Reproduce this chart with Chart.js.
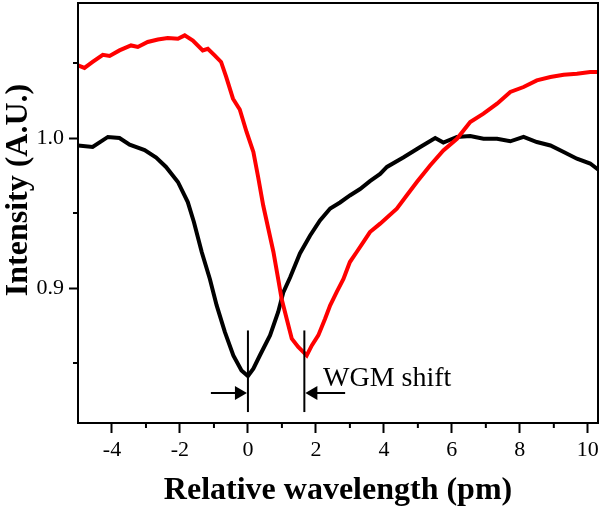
<!DOCTYPE html>
<html>
<head>
<meta charset="utf-8">
<script src="https://cdn.jsdelivr.net/npm/chart.js@4.4.1/dist/chart.umd.min.js"></script>
<style>
  html, body { margin: 0; padding: 0; background: #fff; }
  canvas { display: block; }
</style>
</head>
<body>
<canvas id="chart" width="601" height="511"></canvas>
<script>
// Data
const blackX = [-5.0, -4.57, -4.12, -3.78, -3.48, -3.04, -2.70, -2.41, -2.06, -1.77, -1.59, -1.36, -1.12, -0.92, -0.68, -0.43, -0.19, 0.0, 0.16, 0.35, 0.65, 0.89, 1.04, 1.24, 1.53, 1.83, 2.12, 2.42, 2.71, 3.00, 3.30, 3.59, 3.89, 4.09, 4.57, 5.07, 5.51, 5.75, 6.15, 6.54, 6.93, 7.33, 7.72, 8.11, 8.50, 8.90, 9.29, 9.68, 10.07, 10.3];
const blackY = [0.995, 0.994, 1.0007, 1.0, 0.9955, 0.992, 0.987, 0.9807, 0.9707, 0.9573, 0.944, 0.924, 0.906, 0.8884, 0.8707, 0.855, 0.845, 0.8413, 0.8462, 0.855, 0.8684, 0.884, 0.897, 0.907, 0.923, 0.935, 0.945, 0.953, 0.957, 0.9617, 0.966, 0.9712, 0.976, 0.9807, 0.987, 0.994, 1.0, 0.997, 1.0007, 1.0013, 0.9995, 0.9995, 0.9978, 1.0007, 0.9973, 0.995, 0.9907, 0.9862, 0.983, 0.979];

const redX = [-5.0, -4.81, -4.57, -4.27, -4.07, -3.78, -3.44, -3.24, -2.95, -2.65, -2.36, -2.06, -1.86, -1.62, -1.33, -1.18, -0.98, -0.79, -0.64, -0.44, -0.24, -0.04, 0.16, 0.30, 0.45, 0.60, 0.75, 0.89, 0.99, 1.14, 1.29, 1.48, 1.73, 1.88, 2.07, 2.27, 2.42, 2.61, 2.81, 3.00, 3.20, 3.40, 3.59, 3.89, 4.38, 4.67, 4.97, 5.36, 5.75, 6.15, 6.54, 6.93, 7.33, 7.72, 8.11, 8.50, 8.90, 9.29, 9.68, 10.07, 10.3];
const redY = [1.0484, 1.0467, 1.0507, 1.0555, 1.0547, 1.0584, 1.0617, 1.0607, 1.064, 1.0657, 1.0667, 1.0662, 1.0684, 1.065, 1.0584, 1.0595, 1.0551, 1.0507, 1.0407, 1.0262, 1.019, 1.004, 0.9907, 0.974, 0.955, 0.9395, 0.924, 0.906, 0.8929, 0.8795, 0.8662, 0.8607, 0.855, 0.8617, 0.8684, 0.8795, 0.8884, 0.8973, 0.906, 0.9173, 0.924, 0.9307, 0.9373, 0.9429, 0.9529, 0.9617, 0.9707, 0.9817, 0.9917, 0.9995, 1.0107, 1.0162, 1.0229, 1.0307, 1.034, 1.0384, 1.0407, 1.0422, 1.0429, 1.044, 1.044];

// axes
const xMajorTicks = [-4, -2, 0, 2, 4, 6, 8, 10];
const xMinorTicks = [-3, -1, 1, 3, 5, 7, 9];
const yMajorTicks = [0.9, 1.0];
const yMinorTicks = [0.85, 0.95, 1.05];
const xTitle = 'Relative wavelength (pm)';
const yTitle = 'Intensity (A.U.)';

// annotation: dip markers and arrows
const dipX = [0, 1.66];
const dipLineY = [0.8173, 0.8717];
const arrowY = 0.83;
const arrowTailX = [-1.09, 2.86];
const shiftLabel = 'WGM shift';
const shiftLabelX = 2.21;
const shiftLabelY = 0.835;

const serif = "'Liberation Serif', 'Times New Roman', serif";

const toPoints = (xs, ys) => xs.map((x, i) => ({ x: x, y: ys[i] }));

// keep the plot box where the reference has it
function noEdgePadding(s) {
  s.paddingTop = 0;
  s.paddingBottom = 0;
  s.paddingLeft = 0;
  s.paddingRight = 0;
}

const extras = {
  id: 'extras',
  afterDraw(chart) {
    const ctx = chart.ctx;
    const area = chart.chartArea;
    const xs = chart.scales.x;
    const ys = chart.scales.y;
    ctx.save();

    // frame
    ctx.strokeStyle = '#000';
    ctx.lineWidth = 2;
    ctx.strokeRect(area.left, area.top, area.right - area.left, area.bottom - area.top);

    // minor ticks
    ctx.beginPath();
    xMinorTicks.forEach(v => {
      const px = xs.getPixelForValue(v);
      ctx.moveTo(px, area.bottom);
      ctx.lineTo(px, area.bottom + 5);
    });
    yMinorTicks.forEach(v => {
      const py = ys.getPixelForValue(v);
      ctx.moveTo(area.left - 5, py);
      ctx.lineTo(area.left, py);
    });
    ctx.stroke();

    // dip markers
    const y0 = ys.getPixelForValue(dipLineY[0]);
    const y1 = ys.getPixelForValue(dipLineY[1]);
    const ay = ys.getPixelForValue(arrowY);
    ctx.lineWidth = 2;
    dipX.forEach((v, i) => {
      const px = xs.getPixelForValue(v);
      ctx.beginPath();
      ctx.moveTo(px, y0);
      ctx.lineTo(px, y1);
      ctx.stroke();

      // arrow towards the marker
      const tail = xs.getPixelForValue(arrowTailX[i]);
      const dir = tail < px ? 1 : -1;
      ctx.beginPath();
      ctx.moveTo(tail, ay);
      ctx.lineTo(px - dir * 10, ay);
      ctx.stroke();
      ctx.beginPath();
      ctx.moveTo(px - dir * 1, ay);
      ctx.lineTo(px - dir * 13, ay - 7);
      ctx.lineTo(px - dir * 13, ay + 7);
      ctx.closePath();
      ctx.fillStyle = '#000';
      ctx.fill();
    });

    // label
    ctx.fillStyle = '#000';
    ctx.font = '28px ' + serif;
    ctx.textAlign = 'left';
    ctx.textBaseline = 'alphabetic';
    ctx.fillText(shiftLabel, xs.getPixelForValue(shiftLabelX), ys.getPixelForValue(shiftLabelY));

    // y axis title
    ctx.font = 'bold 32px ' + serif;
    ctx.textAlign = 'center';
    ctx.translate(27, 190);
    ctx.rotate(-Math.PI / 2);
    ctx.fillText(yTitle, 0, 0);
    ctx.restore();
  }
};

new Chart(document.getElementById('chart'), {
  type: 'line',
  data: {
    datasets: [
      {
        label: 'shifted',
        data: toPoints(redX, redY),
        borderColor: '#ff0000',
        borderWidth: 4,
        pointRadius: 0,
        tension: 0
      },
      {
        label: 'reference',
        data: toPoints(blackX, blackY),
        borderColor: '#000000',
        borderWidth: 4,
        pointRadius: 0,
        tension: 0
      }
    ]
  },
  options: {
    responsive: false,
    animation: false,
    layout: { padding: { top: 3, right: 3, left: 0, bottom: 0 } },
    plugins: {
      legend: { display: false },
      tooltip: { enabled: false }
    },
    scales: {
      x: {
        type: 'linear',
        min: -5,
        max: 10.3,
        afterFit: s => { s.height = 88; noEdgePadding(s); },
        afterBuildTicks: s => { s.ticks = xMajorTicks.map(v => ({ value: v })); },
        border: { display: true, color: '#000', width: 2 },
        grid: { drawOnChartArea: false, drawTicks: true, tickLength: 10, tickWidth: 2, tickColor: '#000' },
        ticks: {
          color: '#000',
          font: { family: serif, size: 22 },
          padding: 4,
          maxRotation: 0,
          autoSkip: false
        },
        title: {
          display: true,
          text: xTitle,
          color: '#000',
          font: { family: serif, size: 32, weight: 'bold' },
          padding: { top: 0, bottom: 1 }
        }
      },
      y: {
        type: 'linear',
        min: 0.81,
        max: 1.09,
        afterFit: s => { s.width = 78; noEdgePadding(s); },
        afterBuildTicks: s => { s.ticks = yMajorTicks.map(v => ({ value: v })); },
        border: { display: true, color: '#000', width: 2 },
        grid: { drawOnChartArea: false, drawTicks: true, tickLength: 9, tickWidth: 2, tickColor: '#000' },
        ticks: {
          color: '#000',
          font: { family: serif, size: 22 },
          padding: 5,
          callback: v => v.toFixed(1)
        }
      }
    }
  },
  plugins: [extras]
});
</script>
</body>
</html>
